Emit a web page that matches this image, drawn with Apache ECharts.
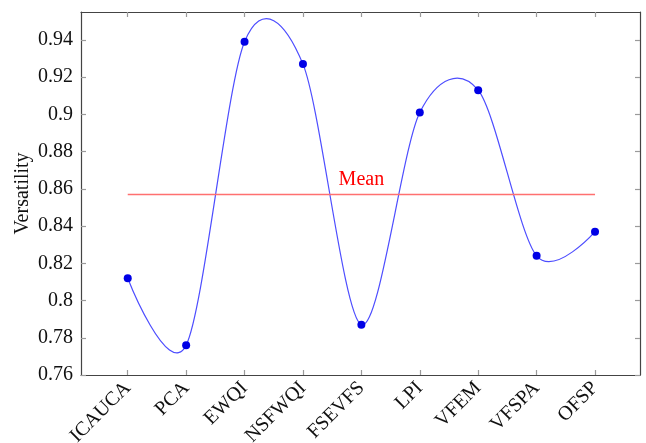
<!DOCTYPE html>
<html><head><meta charset="utf-8">
<script src="https://cdn.jsdelivr.net/npm/echarts@6/dist/echarts.min.js"></script>
<style>html,body{margin:0;padding:0;background:#fff}#c{width:646px;height:443px}</style>
</head><body><div id="c"></div>
<script>
const categories = ['ICAUCA','PCA','EWQI','NSFWQI','FSEVFS','LPI','VFEM','VFSPA','OFSP'];
const versatility = [0.812,0.776,0.939,0.927,0.787,0.901,0.913,0.824,0.837];
const yTicks = [0.76,0.78,0.8,0.82,0.84,0.86,0.88,0.9,0.92,0.94];
const meanValue = versatility.reduce((a,b)=>a+b,0)/versatility.length;

const font = 'Liberation Serif';
const fs = 20;
const tension = 0.2775*0.55; // TikZ "smooth" default tension
const idx = categories.map((_,i)=>i);
const seriesData = versatility.map((v,i)=>[i,v]);
const chart = echarts.init(document.getElementById('c'));
const axisLineStyle = {color:'#444', width:1.2};
const tickStyle = {color:'#9a9a9a', width:1.2};

function renderSmooth(params, api){
  if (params.dataIndex !== 0) return null;
  const p = seriesData.map(d=>api.coord(d));
  const n = p.length;
  const children = [];
  for (let i=0;i<n-1;i++){
    const a = p[i], b = p[i+1];
    const prev = i>0 ? p[i-1] : null;
    const next = i+2<n ? p[i+2] : null;
    const c1 = prev ? [a[0]+tension*(b[0]-prev[0]), a[1]+tension*(b[1]-prev[1])] : a;
    const c2 = next ? [b[0]-tension*(next[0]-a[0]), b[1]-tension*(next[1]-a[1])] : b;
    children.push({type:'bezierCurve', shape:{x1:a[0],y1:a[1],cpx1:c1[0],cpy1:c1[1],cpx2:c2[0],cpy2:c2[1],x2:b[0],y2:b[1]},
      style:{stroke:'#4d4dff', lineWidth:1.2, fill:null}});
  }
  return {type:'group', children};
}

chart.setOption({
  animation:false,
  grid:{left:81, top:12, right:6, bottom:68, containLabel:false, outerBoundsMode:'none'},
  xAxis:[{
    type:'value', min:-0.8, max:8.77, position:'bottom',
    axisLine:{show:true, onZero:false, lineStyle:axisLineStyle},
    axisTick:{show:true, inside:true, length:5, customValues:idx, lineStyle:tickStyle},
    axisLabel:{customValues:idx, rotate:45, margin:10, fontFamily:font, fontSize:fs, color:'#111',
      formatter:v=>categories[Math.round(v)]},
    splitLine:{show:false}
  },{
    type:'value', min:-0.8, max:8.77, position:'top',
    axisLine:{show:true, onZero:false, lineStyle:axisLineStyle},
    axisTick:{show:true, inside:true, length:5, customValues:idx, lineStyle:tickStyle},
    axisLabel:{show:false}, splitLine:{show:false}
  }],
  yAxis:[{
    type:'value', min:0.76, max:0.955, position:'left',
    name:'Versatility', nameLocation:'middle', nameRotate:90, nameGap:48, nameMoveOverlap:false,
    nameTextStyle:{fontFamily:font, fontSize:fs, color:'#111'},
    axisLine:{show:true, onZero:false, lineStyle:axisLineStyle},
    axisTick:{show:true, inside:true, length:5, customValues:yTicks, lineStyle:tickStyle},
    axisLabel:{customValues:yTicks, margin:8, fontFamily:font, fontSize:fs, color:'#111',
      formatter:v=>String(+(+v).toFixed(2))},
    splitLine:{show:false}
  },{
    type:'value', min:0.76, max:0.955, position:'right',
    axisLine:{show:true, onZero:false, lineStyle:axisLineStyle},
    axisTick:{show:true, inside:true, length:5, customValues:yTicks, lineStyle:tickStyle},
    axisLabel:{show:false}, splitLine:{show:false}
  }],
  series:[{
    type:'custom', xAxisIndex:0, yAxisIndex:0,
    data: seriesData, encode:{x:0,y:1},
    renderItem: renderSmooth, z:2, clip:false
  },{
    type:'scatter', xAxisIndex:0, yAxisIndex:0,
    data: seriesData,
    symbol:'circle', symbolSize:8,
    itemStyle:{color:'#0000e6', opacity:1},
    markLine:{
      silent:true, symbol:'none',
      lineStyle:{color:'#ff7070', type:'solid', width:1.3},
      label:{show:true, position:'middle', formatter:'Mean', color:'#f00', fontFamily:font, fontSize:fs, distance:4},
      data:[[{coord:[0,meanValue]},{coord:[8,meanValue]}]]
    },
    z:3
  }]
});
</script></body></html>
